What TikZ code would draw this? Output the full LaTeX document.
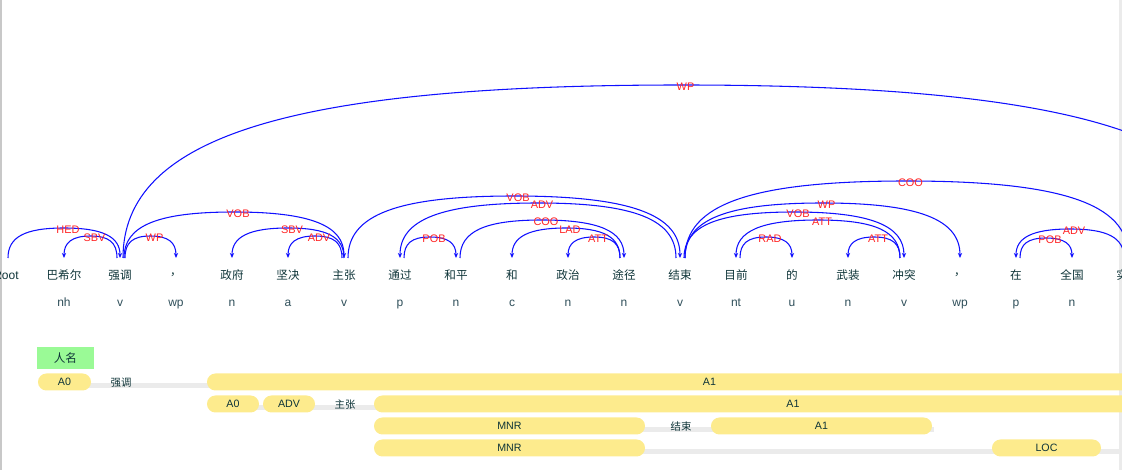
\documentclass[tikz,border=0pt]{standalone}
\usepackage{fontspec}
\setmainfont{Liberation Sans}
\newfontfamily\cjk{Noto Sans CJK SC}
\usetikzlibrary{arrows.meta,calc,backgrounds}
\definecolor{arcblue}{HTML}{1010FF}
\definecolor{labred}{HTML}{FF2424}
\definecolor{wordcol}{HTML}{0E3438}
\definecolor{poscol}{HTML}{2F4F5A}
\definecolor{srlyellow}{HTML}{FDEB8D}
\definecolor{srlgray}{HTML}{EBEBEB}
\definecolor{nergreen}{HTML}{9AFA96}
\definecolor{edgegray}{HTML}{C8C8C8}
% dependency arc: head, dependent, head shift, height, label
\newcommand{\deplink}[5]{%
\draw [deparc] let \p1=([xshift=#3*0.75pt]#1), \p2=(#2), \n1={(\x1+\x2)/2}, \n2={#4*0.75pt} in
(\p1) .. controls (\x1,{\y1+\n2*0.7}) and ({\x1+(\n1*1pt-\x1)*0.3},{\y1+\n2}) .. ({\n1*1pt},{\y1+\n2})
node [deplabel] (l#1#2) {#5}
.. controls ({\x2+(\n1*1pt-\x2)*0.3},{\y1+\n2}) and (\x2,{\y1+\n2*0.7}) .. (\p2);}

\begin{document}
\begin{tikzpicture}[x=0.75pt,y=-0.75pt]
\tikzstyle{every node}+=[inner sep=0pt]
\tikzstyle{wordtext}=[font=\cjk\fontsize{8.7}{10}\selectfont, text=wordcol]
\tikzstyle{postag}=[font=\fontsize{9}{10}\selectfont, text=poscol, anchor=base]
\tikzstyle{deparc}=[arcblue, line width=0.8pt, -{Stealth[length=3.8pt,width=3.2pt]}]
\tikzstyle{deplabel}=[font=\fontsize{8.2}{9}\selectfont, text=labred, xshift=3pt, yshift=-1.5pt]
\tikzstyle{pill}=[fill=srlyellow, rounded corners=6.3pt, minimum height=12.75pt, font=\fontsize{8}{9}\selectfont, text=wordcol]
\tikzstyle{predtext}=[font=\cjk\fontsize{7.8}{9}\selectfont, text=wordcol]
\tikzstyle{srlbar}=[srlgray, line width=3.75pt]
\useasboundingbox (0,0) rectangle (1122,470);
\clip (0,0) rectangle (1122,470);
\draw [edgegray, line width=1.2pt] (0.8,0) -- (0.8,470);
\draw [srlgray, line width=2.2pt] (1120.5,0) -- (1120.5,470);
% words
\node [wordtext, font=\fontsize{9}{10}\selectfont] (w0) at (6,275) {Root};
\node [wordtext] (w1) at (64,275) {巴希尔};
\node [wordtext] (w2) at (120,275) {强调};
\node [wordtext] (w3) at (176,275) {，};
\node [wordtext] (w4) at (232,275) {政府};
\node [wordtext] (w5) at (288,275) {坚决};
\node [wordtext] (w6) at (344,275) {主张};
\node [wordtext] (w7) at (400,275) {通过};
\node [wordtext] (w8) at (456,275) {和平};
\node [wordtext] (w9) at (512,275) {和};
\node [wordtext] (w10) at (568,275) {政治};
\node [wordtext] (w11) at (624,275) {途径};
\node [wordtext] (w12) at (680,275) {结束};
\node [wordtext] (w13) at (736,275) {目前};
\node [wordtext] (w14) at (792,275) {的};
\node [wordtext] (w15) at (848,275) {武装};
\node [wordtext] (w16) at (904,275) {冲突};
\node [wordtext] (w17) at (960,275) {，};
\node [wordtext] (w18) at (1016,275) {在};
\node [wordtext] (w19) at (1072,275) {全国};
\node [wordtext] (w20) at (1128,275) {实现};
% tags
\node [postag] (p1) at (64,306.5) {nh};
\node [postag] (p2) at (120,306.5) {v};
\node [postag] (p3) at (176,306.5) {wp};
\node [postag] (p4) at (232,306.5) {n};
\node [postag] (p5) at (288,306.5) {a};
\node [postag] (p6) at (344,306.5) {v};
\node [postag] (p7) at (400,306.5) {p};
\node [postag] (p8) at (456,306.5) {n};
\node [postag] (p9) at (512,306.5) {c};
\node [postag] (p10) at (568,306.5) {n};
\node [postag] (p11) at (624,306.5) {n};
\node [postag] (p12) at (680,306.5) {v};
\node [postag] (p13) at (736,306.5) {nt};
\node [postag] (p14) at (792,306.5) {u};
\node [postag] (p15) at (848,306.5) {n};
\node [postag] (p16) at (904,306.5) {v};
\node [postag] (p17) at (960,306.5) {wp};
\node [postag] (p18) at (1016,306.5) {p};
\node [postag] (p19) at (1072,306.5) {n};
% arc ends
\coordinate (a0) at (8,258);
\coordinate (a1) at (64,258);
\coordinate (a2) at (120,258);
\coordinate (a3) at (176,258);
\coordinate (a4) at (232,258);
\coordinate (a5) at (288,258);
\coordinate (a6) at (344,258);
\coordinate (a7) at (400,258);
\coordinate (a8) at (456,258);
\coordinate (a9) at (512,258);
\coordinate (a10) at (568,258);
\coordinate (a11) at (624,258);
\coordinate (a12) at (680,258);
\coordinate (a13) at (736,258);
\coordinate (a14) at (792,258);
\coordinate (a15) at (848,258);
\coordinate (a16) at (904,258);
\coordinate (a17) at (960,258);
\coordinate (a18) at (1016,258);
\coordinate (a19) at (1072,258);
\coordinate (a20) at (1128,258);
\coordinate (a22) at (1240,258);
% arcs
\deplink{a0}{a2}{0}{30}{HED}
\deplink{a2}{a1}{-3}{22}{SBV}
\deplink{a2}{a3}{5}{22}{WP}
\deplink{a2}{a6}{4}{46}{VOB}
\deplink{a2}{a22}{3}{173}{WP}
\deplink{a6}{a4}{0}{30}{SBV}
\deplink{a6}{a5}{-2}{22}{ADV}
\deplink{a6}{a12}{4}{62}{VOB}
\deplink{a12}{a7}{-4}{55}{ADV}
\deplink{a7}{a8}{4}{21}{POB}
\deplink{a8}{a11}{4}{38}{COO}
\deplink{a11}{a9}{-4}{30}{LAD}
\deplink{a11}{a10}{-4}{21}{ATT}
\deplink{a12}{a20}{5}{77}{COO}
\deplink{a12}{a17}{5}{55}{WP}
\deplink{a12}{a16}{4}{46}{VOB}
\deplink{a16}{a13}{-4}{38}{ATT}
\deplink{a13}{a14}{4}{21}{RAD}
\deplink{a16}{a15}{-4}{21}{ATT}
\deplink{a20}{a18}{-4}{29}{ADV}
\deplink{a18}{a19}{4}{20}{POB}
% roles
\node [fill=nergreen, minimum width=42.4pt, minimum height=16.5pt, font=\cjk\fontsize{8.7}{10}\selectfont, text=wordcol] (ner1) at (65.5,358) {人名};
\node [pill, minimum width=39.75pt] (r1a0) at (64.5,382) {A0};
\node [predtext] (r1v) at (121,383) {强调};
\node [pill, minimum width=753.75pt] (r1a1) at (709.5,382) {A1};
\node [pill, minimum width=39pt] (r2a0) at (233,404) {A0};
\node [pill, minimum width=39pt] (r2adv) at (289,404) {ADV};
\node [predtext] (r2v) at (345,405) {主张};
\node [pill, minimum width=628.5pt] (r2a1) at (793,404) {A1};
\node [pill, minimum width=203.25pt] (r3mnr) at (509.5,426) {MNR};
\node [predtext] (r3v) at (681,427) {结束};
\node [pill, minimum width=165.75pt] (r3a1) at (821.5,426) {A1};
\node [pill, minimum width=203.25pt] (r4mnr) at (509.5,448) {MNR};
\node [pill, minimum width=81.75pt] (r4loc) at (1046.5,448) {LOC};
\coordinate (r4end) at (1212,448);
\begin{pgfonlayer}{background}
\draw [srlbar] ([yshift=-3pt]r1a0.center) -- ([yshift=-3pt]r1a1.center);
\draw [srlbar] ([yshift=-3pt]r2a0.center) -- ([yshift=-3pt]r2a1.center);
\draw [srlbar] ([yshift=-3pt]r3mnr.center) -- ([yshift=-3pt,xshift=1.5pt]r3a1.east);
\draw [srlbar] ([yshift=-3pt]r4mnr.center) -- ([yshift=-3pt]r4end);
\end{pgfonlayer}
\end{tikzpicture}
\end{document}
